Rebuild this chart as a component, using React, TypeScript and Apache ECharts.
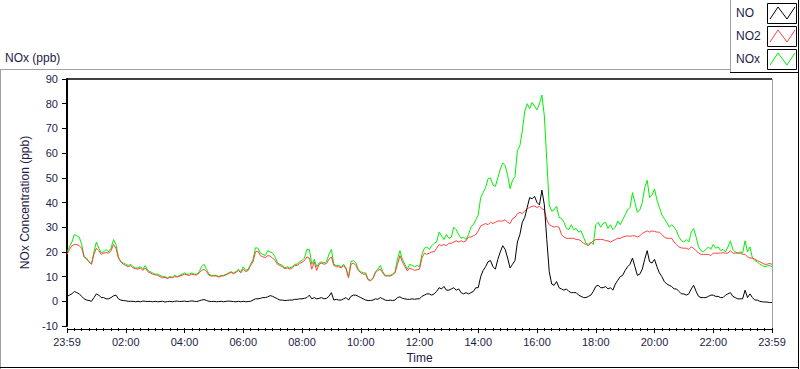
import React, { useEffect, useRef } from "react";
import * as echarts from "echarts";

// minutes between samples (x = index * STEP_MIN, axis runs 0..1440 min from 23:59)
const STEP_MIN = 5;

const X_TICK_LABELS = ["23:59", "02:00", "04:00", "06:00", "08:00", "10:00", "12:00", "14:00", "16:00", "18:00", "20:00", "22:00", "23:59"];

const SERIES_NAMES = ["NO", "NO2", "NOx"];
const SERIES_COLORS = ["#000000", "#ff4040", "#00f000"];

// NOx (ppb), one row per hour
const NOX = [
  20, 22, 24, 27, 26.5, 26, 23, 18, 17.5, 16, 15, 20,
  24, 21.5, 19.7, 20, 21, 20, 21.5, 25, 23, 18, 16, 15.5,
  15, 14.5, 15, 14, 13.5, 13.5, 14, 13, 14.5, 12.5, 12, 11.5,
  11, 11, 10.5, 10, 10, 9.5, 10, 9.7, 10.5, 10, 10.5, 11,
  11.5, 11, 11, 11.5, 11, 11, 12, 14, 15, 13, 11, 10.5,
  10.5, 10.5, 10, 10.5, 10.5, 11, 11.5, 12, 11.5, 12, 13, 12,
  14, 12.5, 13, 15, 17, 21.7, 21.5, 19.5, 19, 18.5, 20.5, 20,
  19.5, 18, 15.5, 15, 14.5, 13.5, 14, 13.5, 14, 15, 15, 16,
  16.5, 17.5, 21, 21, 15, 17, 14, 15.5, 16, 15.5, 16, 19,
  21, 15, 14.5, 14.5, 14, 15, 13.5, 10, 16, 16.5, 15.5, 13,
  12, 11.5, 11.5, 9, 8.5, 9.5, 12, 13, 14.5, 12, 10.5, 10.5,
  10.5, 11, 12, 17, 20.5, 17, 15, 13, 15, 14.5, 14, 14.5,
  14, 19, 21.5, 22, 21, 22.5, 23.5, 24, 28, 26.5, 25, 27,
  25.5, 26, 30, 29, 27, 25.5, 26, 25, 27, 30, 31, 33,
  35, 42, 44, 46, 49.6, 50, 47, 46.5, 50, 53.5, 56, 55,
  51, 45.6, 49, 50.5, 61, 63, 69, 77, 80, 78, 80.5, 79,
  77.5, 80, 83.5, 75, 57, 39, 36.5, 37, 38.5, 34, 33.5, 32,
  29.5, 29, 31, 29, 29.5, 28, 28.5, 26, 23.5, 23, 24, 23,
  31, 32, 30, 31.5, 32, 29.5, 31, 29, 30, 32.5, 31, 33,
  35, 37, 38, 44, 40, 36, 37, 40, 46, 49, 42, 43,
  45.5, 41, 38, 35, 33.5, 32, 30, 31, 30, 28.5, 26, 24.5,
  24, 25, 24, 28, 29.5, 26, 22, 20.5, 20, 21, 22, 21,
  23, 21.5, 22, 20.5, 21, 20, 22, 24.5, 21, 20, 19.5, 20,
  19.5, 24.5, 20, 22, 17.5, 16.5, 16, 15, 14.5, 14, 14.3, 14.5,
  14,
];

// NO2 (ppb)
const NO2 = [
  19, 21, 22.5, 23, 23, 22.5, 21.5, 18, 17, 16, 15, 19,
  21.5, 20.5, 19, 19.5, 19.7, 19.5, 20.5, 23, 21.5, 17.5, 16, 15,
  14.5, 14, 14.5, 13.5, 13.2, 13, 13.5, 12.5, 13.5, 12, 11.5, 11,
  10.7, 10.5, 10, 9.5, 9.7, 9.2, 9.7, 9.5, 10, 9.8, 10.2, 10.5,
  11, 10.7, 10.5, 11, 10.7, 10.7, 11.5, 12.5, 13, 12, 10.5, 10.2,
  10.3, 10.2, 9.8, 10.2, 10.3, 10.7, 11.2, 11.7, 11.2, 11.7, 12.5, 11.5,
  13, 12, 12.5, 14.5, 16, 20, 20.3, 18.5, 18, 17.7, 18.5, 18.3,
  17.5, 16.5, 15, 14.5, 14, 13.2, 13.5, 13, 13.5, 14.5, 14.5, 15.3,
  15.8, 16.5, 18, 17.5, 13, 16, 12.5, 15, 15.5, 15, 15.3, 17,
  18, 14.5, 14, 14, 13.5, 14.5, 13, 9.5, 15, 15.5, 14.5, 12.5,
  11.5, 11, 11, 8.7, 8.3, 9.2, 11.5, 12.5, 13, 11.5, 10.2, 10.3,
  10.2, 10.7, 11.5, 15, 18.5, 16, 14, 12.3, 13.5, 13, 12.5, 12.8,
  13, 17.5, 19.5, 19, 19.5, 20, 20, 21.5, 23, 22.5, 23, 22.5,
  23.5, 23.5, 24, 24.5, 24, 24.5, 24, 24.5, 26, 26, 26.5, 27,
  28.5, 30.5, 31, 31.5, 31, 32, 31.5, 32, 32.5, 32.5, 32.5, 33,
  32, 31.5, 33.5, 34, 35.5, 36, 35.5, 36.5, 37.5, 38, 38.5, 38.5,
  38, 38.5, 37.5, 37, 33, 31, 30.5, 30, 30.3, 30, 27, 26,
  25.5, 25.5, 25.5, 25.5, 25, 25, 24.5, 23.5, 23, 22.5, 23.5, 24.5,
  25, 25, 25, 25, 24.5, 24.5, 24, 24.5, 25, 25.5, 25.5, 26,
  26.3, 26.5, 26.3, 26.5, 26.5, 26, 26.5, 27.5, 28, 28.5, 28, 28.5,
  28.3, 28, 28, 27, 26, 25.5, 25.5, 25.5, 24, 23, 22, 21.6,
  21.5, 21.5, 21, 22, 21.5, 20.5, 19.5, 19, 19, 19, 19, 18.5,
  19.5, 19.5, 19.5, 19.5, 19.7, 19.5, 19.5, 20.5, 19.5, 19.5, 19.5, 19.5,
  19, 19, 18, 17.5, 17.5, 17, 16.5, 16, 15.5, 15, 15, 15.3,
  15,
];

// NO (ppb)
const NO = [
  2, 2.5, 3, 4, 3.5, 3, 2, 1, 0.5, 0.3, 0, 1.5,
  3, 2.5, 1.5, 1.5, 1, 1, 1.5, 2.2, 2.5, 1, 0.5, 0.3,
  0.2, 0, 0, 0, -0.2, 0, -0.2, 0.1, 0, -0.1, 0, -0.2,
  0, -0.2, -0.1, 0, -0.3, -0.1, 0, -0.2, 0, 0.1, -0.1, 0,
  0.1, -0.1, 0, 0.2, 0, -0.1, 0.2, 0.5, 0.7, 0.3, 0, -0.1,
  0, -0.2, -0.1, 0, -0.2, 0, 0.1, 0, -0.1, -0.2, 0, -0.2,
  0, -0.2, -0.1, 0, 0.5, 1, 1, 1.2, 1.5, 1.5, 1.8, 2.3,
  2, 1.5, 1, 0.5, 0.5, 0.3, 0.4, 0.5, 0.5, 0.8, 0.8, 1,
  1, 1.2, 1.5, 2.5, 1, 1.5, 1, 1.2, 1.5, 1, 1.2, 2,
  3.5, 0.5, 0.8, 0.5, 0.5, 1, 1.5, 0.5, 2, 2.5, 2.5, 2,
  1.5, 1, 0.5, 0.3, 0.3, 0.5, 1, 0.8, 1.5, 1, 0.5, 0.3,
  0.5, 0.3, 0.5, 1.5, 1.8, 1.2, 1, 0.8, 0.8, 1, 0.8, 1,
  1, 2, 2.5, 3, 3, 2.5, 3, 4, 5.5, 5, 6, 4.5,
  4.5, 5, 5.5, 4.5, 5, 3.5, 3, 3.5, 3, 3.5, 4, 5.5,
  5.5, 10, 12.5, 14, 16, 16.5, 14, 13, 17, 20, 22.5, 21,
  17.5, 13.5, 15, 16.5, 24, 27, 32, 34, 38, 42, 41.5, 42.5,
  40, 39, 45, 39, 25, 12, 7, 6.5, 8, 5.5, 5, 4.5,
  5, 4, 3.5, 3.5, 3.5, 2.5, 2, 1.5, 1.5, 2, 2.5, 4,
  6, 6.5, 5.5, 5.5, 6, 5, 5.5, 4.5, 7, 8.5, 10, 10.5,
  12.5, 14, 15, 17.5, 14, 10.5, 11, 13, 17, 20.5, 16, 15.5,
  17, 14, 11.5, 10, 8, 7, 6.5, 6, 5, 5, 4, 3,
  3, 2.5, 3, 5, 6.5, 4, 2, 1.5, 1.5, 1.5, 2, 2.5,
  2.5, 2, 2, 1.5, 1.5, 2.5, 3, 3.5, 2, 1.5, 1, 1,
  1, 4.5, 1.5, 3, 1.5, 0.5, 0.5, 0, -0.2, -0.3, -0.3, -0.5,
  -0.5,
];

const FONT = "Liberation Sans, Arial, sans-serif";
const TEXT_COLOR = "#1c1c48";

const toPairs = (arr: number[]) => arr.map((v, i) => [i * STEP_MIN, v]);

export default function App() {
  const ref = useRef<HTMLDivElement>(null);

  useEffect(() => {
    if (!ref.current) return;
    const chart = echarts.init(ref.current, null, { renderer: "svg" });

    const plotL = 67, plotT = 79, plotR = 772, plotB = 329;

    const legendItems: any[] = [];
    SERIES_NAMES.forEach((name, i) => {
      const y0 = 3 + 23 * i;
      legendItems.push({
        type: "text",
        x: 736,
        y: y0 + 10,
        style: { text: name, fill: TEXT_COLOR, font: `12px ${FONT}`, align: "left", verticalAlign: "middle", textVerticalAlign: "middle" },
      });
      legendItems.push({
        type: "rect",
        shape: { x: 767.5, y: y0 + 0.5, width: 29, height: 20 },
        style: { fill: "#ffffff", stroke: "#000000", lineWidth: 1 },
      });
      legendItems.push({
        type: "polyline",
        shape: { points: [[770, y0 + 16], [778, y0 + 4], [787, y0 + 16], [795, y0 + 4]] },
        style: { stroke: SERIES_COLORS[i], lineWidth: 1, fill: "none" },
      });
    });

    const line = (x1: number, y1: number, x2: number, y2: number, stroke: string, w = 1) => ({
      type: "line",
      shape: { x1, y1, x2, y2 },
      style: { stroke, lineWidth: w },
      silent: true,
    });

    const seriesData = [NO, NO2, NOX];
    const order = [2, 1, 0];

    chart.setOption({
      animation: false,
      backgroundColor: "#ffffff",
      grid: { left: plotL, top: plotT, width: plotR - plotL, height: plotB - plotT, containLabel: false },
      xAxis: {
        type: "value",
        min: 0,
        max: 1440,
        interval: 120,
        offset: 2,
        name: "Time",
        nameLocation: "middle",
        nameGap: 24,
        nameTextStyle: { color: TEXT_COLOR, fontSize: 12, fontFamily: FONT },
        axisLine: { show: false, onZero: false },
        axisTick: { show: true, length: 5, lineStyle: { color: "#000000", width: 1 } },
        minorTick: { show: true, splitNumber: 8, length: 3, lineStyle: { color: "#000000", width: 1 } },
        splitLine: { show: false },
        minorSplitLine: { show: false },
        axisLabel: {
          color: TEXT_COLOR,
          fontSize: 11,
          fontFamily: FONT,
          margin: 8,
          formatter: (v: number) => X_TICK_LABELS[Math.round(v / 120)] ?? "",
        },
      },
      yAxis: {
        type: "value",
        min: -10,
        max: 90,
        interval: 10,
        name: "NOx Concentration (ppb)",
        nameLocation: "middle",
        nameRotate: 90,
        nameGap: 36,
        nameTextStyle: { color: TEXT_COLOR, fontSize: 12, fontFamily: FONT },
        axisLine: { show: true, onZero: false, lineStyle: { color: "#000000", width: 2 } },
        axisTick: { show: true, length: 5, lineStyle: { color: "#000000", width: 1 } },
        splitLine: { show: false },
        axisLabel: { color: TEXT_COLOR, fontSize: 11, fontFamily: FONT, margin: 9 },
      },
      series: order.map((k) => ({
        name: SERIES_NAMES[k],
        type: "line",
        data: toPairs(seriesData[k]),
        showSymbol: false,
        symbol: "none",
        lineStyle: { color: SERIES_COLORS[k], width: 1 },
        itemStyle: { color: SERIES_COLORS[k] },
        z: 2 + (2 - k),
      })),
      graphic: [
        // outer panel frame
        line(0, 69.5, 730, 69.5, "#a0a0a0"),
        line(0.5, 69, 0.5, 369, "#a0a0a0"),
        line(0, 367.5, 799, 367.5, "#000000"),
        line(798.5, 0, 798.5, 369, "#000000"),
        // legend panel
        line(730.5, 0, 730.5, 72, "#a0a0a0"),
        line(730, 72.5, 799, 72.5, "#000000"),
        // plot frame
        line(plotL, plotT, plotR, plotT, "#000000", 1.5),
        line(plotR + 0.5, plotT, plotR + 0.5, plotB, "#a0a0a0"),
        line(plotL, plotB + 0.5, plotR, plotB + 0.5, "#000000"),
        // chart title
        {
          type: "text",
          x: 5,
          y: 58,
          style: { text: "NOx (ppb)", fill: TEXT_COLOR, font: `12px ${FONT}`, align: "left", verticalAlign: "middle", textVerticalAlign: "middle" },
        },
        ...legendItems,
      ],
    });

    return () => chart.dispose();
  }, []);

  return <div ref={ref} style={{ position: "fixed", left: 0, top: 0, width: 800, height: 369 }} />;
}
